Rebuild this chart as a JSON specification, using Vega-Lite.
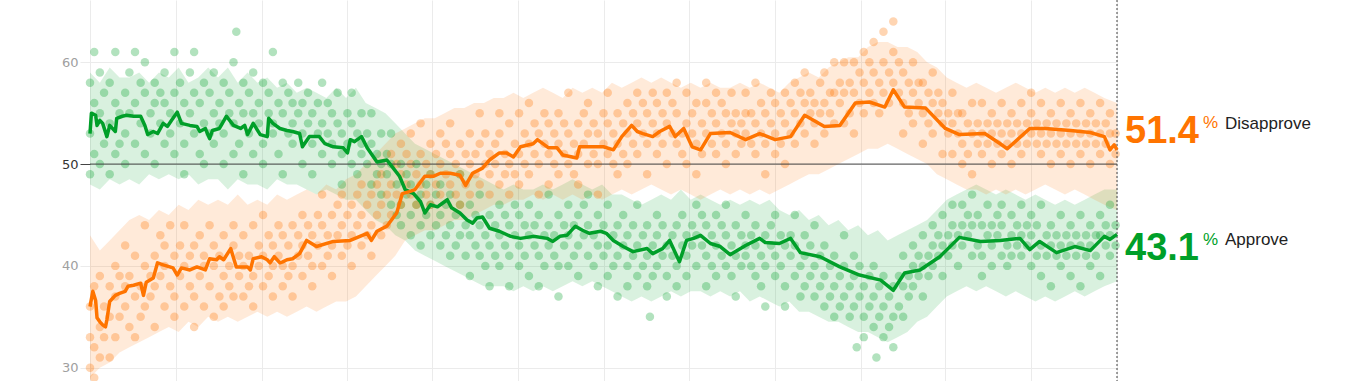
{
  "$schema": "https://vega.github.io/schema/vega-lite/v6.json",
  "autosize": "none",
  "padding": {"left": 90, "top": 0, "right": 235, "bottom": 0},
  "width": 1027,
  "height": 381,
  "config": {"view": {"stroke": null}, "background": "white"},
  "datasets": {
    "lines": [
      {"d":0,"s":"A","v":53.0},{"d":1,"s":"A","v":55.0},{"d":4,"s":"A","v":54.8},{"d":5,"s":"A","v":53.8},{"d":7,"s":"A","v":54.3},{"d":9,"s":"A","v":54.0},{"d":12,"s":"A","v":52.7},{"d":14,"s":"A","v":53.8},{"d":18,"s":"A","v":53.2},{"d":19,"s":"A","v":54.5},{"d":23,"s":"A","v":54.7},{"d":26,"s":"A","v":54.8},{"d":31,"s":"A","v":54.7},{"d":36,"s":"A","v":54.7},{"d":39,"s":"A","v":53.8},{"d":41,"s":"A","v":52.9},{"d":45,"s":"A","v":53.2},{"d":48,"s":"A","v":53.0},{"d":52,"s":"A","v":54.0},{"d":55,"s":"A","v":53.7},{"d":58,"s":"A","v":54.3},{"d":62,"s":"A","v":55.1},{"d":65,"s":"A","v":54.0},{"d":71,"s":"A","v":53.8},{"d":76,"s":"A","v":53.7},{"d":78,"s":"A","v":53.2},{"d":82,"s":"A","v":53.5},{"d":85,"s":"A","v":52.5},{"d":87,"s":"A","v":53.3},{"d":92,"s":"A","v":53.5},{"d":97,"s":"A","v":54.7},{"d":102,"s":"A","v":53.8},{"d":107,"s":"A","v":53.5},{"d":110,"s":"A","v":53.8},{"d":112,"s":"A","v":52.9},{"d":116,"s":"A","v":54.0},{"d":121,"s":"A","v":52.9},{"d":126,"s":"A","v":52.7},{"d":127,"s":"A","v":54.5},{"d":130,"s":"A","v":54.0},{"d":135,"s":"A","v":53.5},{"d":140,"s":"A","v":53.3},{"d":144,"s":"A","v":53.2},{"d":149,"s":"A","v":53.0},{"d":151,"s":"A","v":51.7},{"d":156,"s":"A","v":52.7},{"d":163,"s":"A","v":52.7},{"d":167,"s":"A","v":52.0},{"d":173,"s":"A","v":51.7},{"d":180,"s":"A","v":51.6},{"d":183,"s":"A","v":51.1},{"d":185,"s":"A","v":52.4},{"d":188,"s":"A","v":52.2},{"d":193,"s":"A","v":52.7},{"d":197,"s":"A","v":51.6},{"d":204,"s":"A","v":50.2},{"d":211,"s":"A","v":50.4},{"d":215,"s":"A","v":49.7},{"d":220,"s":"A","v":48.8},{"d":224,"s":"A","v":47.5},{"d":230,"s":"A","v":47.1},{"d":235,"s":"A","v":46.3},{"d":238,"s":"A","v":45.2},{"d":242,"s":"A","v":46.0},{"d":247,"s":"A","v":45.8},{"d":250,"s":"A","v":46.1},{"d":254,"s":"A","v":46.5},{"d":257,"s":"A","v":45.7},{"d":263,"s":"A","v":45.2},{"d":268,"s":"A","v":44.5},{"d":272,"s":"A","v":44.2},{"d":275,"s":"A","v":44.7},{"d":279,"s":"A","v":44.8},{"d":284,"s":"A","v":43.7},{"d":291,"s":"A","v":43.4},{"d":299,"s":"A","v":42.9},{"d":306,"s":"A","v":42.7},{"d":315,"s":"A","v":42.9},{"d":325,"s":"A","v":42.7},{"d":329,"s":"A","v":42.4},{"d":334,"s":"A","v":42.9},{"d":339,"s":"A","v":43.0},{"d":345,"s":"A","v":43.9},{"d":350,"s":"A","v":43.5},{"d":355,"s":"A","v":43.2},{"d":363,"s":"A","v":43.4},{"d":367,"s":"A","v":43.2},{"d":372,"s":"A","v":42.5},{"d":379,"s":"A","v":41.9},{"d":386,"s":"A","v":41.4},{"d":396,"s":"A","v":41.7},{"d":400,"s":"A","v":41.2},{"d":407,"s":"A","v":41.7},{"d":412,"s":"A","v":42.5},{"d":419,"s":"A","v":40.4},{"d":424,"s":"A","v":42.5},{"d":429,"s":"A","v":42.7},{"d":434,"s":"A","v":43.0},{"d":441,"s":"A","v":42.2},{"d":448,"s":"A","v":41.9},{"d":455,"s":"A","v":41.1},{"d":466,"s":"A","v":42.0},{"d":476,"s":"A","v":42.7},{"d":480,"s":"A","v":42.3},{"d":490,"s":"A","v":42.2},{"d":498,"s":"A","v":42.7},{"d":505,"s":"A","v":41.3},{"d":519,"s":"A","v":40.9},{"d":533,"s":"A","v":39.9},{"d":547,"s":"A","v":39.1},{"d":562,"s":"A","v":38.6},{"d":571,"s":"A","v":37.6},{"d":579,"s":"A","v":39.3},{"d":590,"s":"A","v":39.6},{"d":604,"s":"A","v":40.9},{"d":618,"s":"A","v":42.8},{"d":633,"s":"A","v":42.4},{"d":647,"s":"A","v":42.5},{"d":661,"s":"A","v":42.7},{"d":668,"s":"A","v":41.6},{"d":675,"s":"A","v":42.4},{"d":687,"s":"A","v":41.3},{"d":700,"s":"A","v":41.9},{"d":711,"s":"A","v":41.5},{"d":721,"s":"A","v":42.9},{"d":725,"s":"A","v":42.6},{"d":730,"s":"A","v":43.1},
      {"d":0,"s":"D","v":36.0},{"d":2,"s":"D","v":37.5},{"d":4,"s":"D","v":36.6},{"d":5,"s":"D","v":34.9},{"d":7,"s":"D","v":34.5},{"d":9,"s":"D","v":34.2},{"d":11,"s":"D","v":34.0},{"d":12,"s":"D","v":34.7},{"d":14,"s":"D","v":36.5},{"d":18,"s":"D","v":37.1},{"d":21,"s":"D","v":37.3},{"d":25,"s":"D","v":37.5},{"d":27,"s":"D","v":38.0},{"d":31,"s":"D","v":38.1},{"d":36,"s":"D","v":38.3},{"d":38,"s":"D","v":37.1},{"d":40,"s":"D","v":38.4},{"d":45,"s":"D","v":38.8},{"d":48,"s":"D","v":40.3},{"d":52,"s":"D","v":40.1},{"d":59,"s":"D","v":39.8},{"d":62,"s":"D","v":39.1},{"d":65,"s":"D","v":39.8},{"d":71,"s":"D","v":39.6},{"d":76,"s":"D","v":39.9},{"d":82,"s":"D","v":39.6},{"d":85,"s":"D","v":40.7},{"d":90,"s":"D","v":40.6},{"d":92,"s":"D","v":40.9},{"d":95,"s":"D","v":40.6},{"d":100,"s":"D","v":41.7},{"d":104,"s":"D","v":39.9},{"d":112,"s":"D","v":39.9},{"d":114,"s":"D","v":39.6},{"d":116,"s":"D","v":40.7},{"d":122,"s":"D","v":40.9},{"d":126,"s":"D","v":40.6},{"d":128,"s":"D","v":40.3},{"d":131,"s":"D","v":40.9},{"d":135,"s":"D","v":40.3},{"d":137,"s":"D","v":40.4},{"d":140,"s":"D","v":40.6},{"d":144,"s":"D","v":40.7},{"d":149,"s":"D","v":41.2},{"d":154,"s":"D","v":42.5},{"d":161,"s":"D","v":41.9},{"d":173,"s":"D","v":42.4},{"d":185,"s":"D","v":42.5},{"d":197,"s":"D","v":43.2},{"d":200,"s":"D","v":42.5},{"d":204,"s":"D","v":43.4},{"d":211,"s":"D","v":43.9},{"d":218,"s":"D","v":45.2},{"d":222,"s":"D","v":47.1},{"d":227,"s":"D","v":47.3},{"d":231,"s":"D","v":47.5},{"d":238,"s":"D","v":48.8},{"d":244,"s":"D","v":48.8},{"d":249,"s":"D","v":49.1},{"d":256,"s":"D","v":49.1},{"d":263,"s":"D","v":48.9},{"d":267,"s":"D","v":47.9},{"d":272,"s":"D","v":49.1},{"d":279,"s":"D","v":49.6},{"d":284,"s":"D","v":50.4},{"d":291,"s":"D","v":51.1},{"d":296,"s":"D","v":51.1},{"d":301,"s":"D","v":50.7},{"d":306,"s":"D","v":51.7},{"d":315,"s":"D","v":52.0},{"d":318,"s":"D","v":52.4},{"d":326,"s":"D","v":51.6},{"d":332,"s":"D","v":51.6},{"d":336,"s":"D","v":50.9},{"d":346,"s":"D","v":50.6},{"d":348,"s":"D","v":51.7},{"d":355,"s":"D","v":51.7},{"d":365,"s":"D","v":51.7},{"d":372,"s":"D","v":51.4},{"d":378,"s":"D","v":52.7},{"d":385,"s":"D","v":53.8},{"d":389,"s":"D","v":53.2},{"d":393,"s":"D","v":53.0},{"d":400,"s":"D","v":52.7},{"d":405,"s":"D","v":53.2},{"d":412,"s":"D","v":53.7},{"d":416,"s":"D","v":52.7},{"d":422,"s":"D","v":53.5},{"d":428,"s":"D","v":51.7},{"d":434,"s":"D","v":51.4},{"d":441,"s":"D","v":53.0},{"d":455,"s":"D","v":53.1},{"d":466,"s":"D","v":52.4},{"d":476,"s":"D","v":53.0},{"d":487,"s":"D","v":52.4},{"d":498,"s":"D","v":52.7},{"d":508,"s":"D","v":54.8},{"d":522,"s":"D","v":53.7},{"d":533,"s":"D","v":53.8},{"d":544,"s":"D","v":56.0},{"d":554,"s":"D","v":56.1},{"d":565,"s":"D","v":55.6},{"d":571,"s":"D","v":57.3},{"d":579,"s":"D","v":55.6},{"d":594,"s":"D","v":55.5},{"d":608,"s":"D","v":53.5},{"d":618,"s":"D","v":52.9},{"d":636,"s":"D","v":53.0},{"d":647,"s":"D","v":52.0},{"d":652,"s":"D","v":51.5},{"d":668,"s":"D","v":53.5},{"d":679,"s":"D","v":53.5},{"d":697,"s":"D","v":53.3},{"d":711,"s":"D","v":53.1},{"d":721,"s":"D","v":52.7},{"d":725,"s":"D","v":51.4},{"d":728,"s":"D","v":51.9},{"d":730,"s":"D","v":51.4}
    ],
    "bands": [
      {"d":0,"s":"A","lo":48.0,"hi":59.0},{"d":7,"s":"A","lo":47.5,"hi":58.0},{"d":14,"s":"A","lo":48.5,"hi":59.5},{"d":21,"s":"A","lo":48.0,"hi":58.5},{"d":28,"s":"A","lo":48.5,"hi":58.5},{"d":35,"s":"A","lo":48.0,"hi":59.0},{"d":42,"s":"A","lo":49.0,"hi":58.0},{"d":49,"s":"A","lo":48.5,"hi":59.0},{"d":56,"s":"A","lo":49.0,"hi":58.5},{"d":63,"s":"A","lo":48.5,"hi":59.5},{"d":70,"s":"A","lo":49.0,"hi":58.0},{"d":77,"s":"A","lo":48.0,"hi":58.5},{"d":84,"s":"A","lo":48.5,"hi":59.5},{"d":91,"s":"A","lo":48.5,"hi":58.5},{"d":98,"s":"A","lo":47.5,"hi":59.5},{"d":105,"s":"A","lo":48.5,"hi":58.0},{"d":112,"s":"A","lo":48.0,"hi":59.0},{"d":119,"s":"A","lo":48.0,"hi":58.0},{"d":126,"s":"A","lo":47.5,"hi":58.5},{"d":133,"s":"A","lo":48.5,"hi":57.5},{"d":140,"s":"A","lo":48.0,"hi":58.0},{"d":147,"s":"A","lo":48.0,"hi":57.0},{"d":154,"s":"A","lo":47.5,"hi":57.5},{"d":161,"s":"A","lo":47.0,"hi":57.0},{"d":168,"s":"A","lo":47.5,"hi":56.5},{"d":175,"s":"A","lo":47.0,"hi":57.5},{"d":182,"s":"A","lo":46.5,"hi":56.5},{"d":189,"s":"A","lo":46.5,"hi":57.5},{"d":196,"s":"A","lo":45.5,"hi":56.0},{"d":203,"s":"A","lo":44.5,"hi":55.5},{"d":210,"s":"A","lo":44.0,"hi":55.0},{"d":217,"s":"A","lo":43.0,"hi":54.0},{"d":224,"s":"A","lo":42.5,"hi":53.0},{"d":231,"s":"A","lo":41.5,"hi":52.0},{"d":238,"s":"A","lo":41.0,"hi":51.5},{"d":245,"s":"A","lo":40.5,"hi":51.0},{"d":252,"s":"A","lo":40.0,"hi":50.5},{"d":259,"s":"A","lo":39.5,"hi":50.0},{"d":266,"s":"A","lo":39.0,"hi":49.5},{"d":273,"s":"A","lo":38.5,"hi":49.0},{"d":280,"s":"A","lo":38.0,"hi":48.5},{"d":287,"s":"A","lo":38.0,"hi":48.0},{"d":294,"s":"A","lo":38.0,"hi":47.5},{"d":301,"s":"A","lo":37.5,"hi":48.0},{"d":308,"s":"A","lo":38.0,"hi":47.5},{"d":315,"s":"A","lo":37.5,"hi":47.5},{"d":322,"s":"A","lo":38.0,"hi":48.0},{"d":329,"s":"A","lo":37.5,"hi":47.5},{"d":336,"s":"A","lo":38.0,"hi":48.0},{"d":343,"s":"A","lo":38.5,"hi":48.5},{"d":350,"s":"A","lo":38.0,"hi":48.0},{"d":357,"s":"A","lo":38.5,"hi":47.5},{"d":364,"s":"A","lo":38.0,"hi":48.0},{"d":371,"s":"A","lo":37.5,"hi":47.0},{"d":378,"s":"A","lo":37.0,"hi":47.0},{"d":385,"s":"A","lo":36.5,"hi":46.5},{"d":392,"s":"A","lo":37.0,"hi":46.0},{"d":399,"s":"A","lo":36.5,"hi":46.5},{"d":406,"s":"A","lo":37.0,"hi":47.0},{"d":413,"s":"A","lo":37.5,"hi":46.5},{"d":420,"s":"A","lo":37.0,"hi":47.5},{"d":427,"s":"A","lo":37.5,"hi":46.5},{"d":434,"s":"A","lo":37.5,"hi":47.0},{"d":441,"s":"A","lo":37.0,"hi":46.5},{"d":448,"s":"A","lo":37.5,"hi":46.0},{"d":455,"s":"A","lo":37.0,"hi":46.5},{"d":462,"s":"A","lo":37.5,"hi":46.0},{"d":469,"s":"A","lo":36.5,"hi":46.5},{"d":476,"s":"A","lo":37.0,"hi":46.0},{"d":483,"s":"A","lo":36.5,"hi":46.5},{"d":490,"s":"A","lo":36.0,"hi":45.5},{"d":497,"s":"A","lo":36.5,"hi":45.0},{"d":504,"s":"A","lo":35.5,"hi":45.5},{"d":511,"s":"A","lo":35.5,"hi":44.5},{"d":518,"s":"A","lo":35.0,"hi":45.0},{"d":525,"s":"A","lo":34.5,"hi":44.0},{"d":532,"s":"A","lo":34.5,"hi":44.5},{"d":539,"s":"A","lo":34.0,"hi":43.5},{"d":546,"s":"A","lo":33.5,"hi":44.0},{"d":553,"s":"A","lo":33.5,"hi":43.0},{"d":560,"s":"A","lo":33.0,"hi":43.5},{"d":567,"s":"A","lo":32.5,"hi":42.5},{"d":574,"s":"A","lo":33.0,"hi":43.0},{"d":581,"s":"A","lo":33.5,"hi":43.5},{"d":588,"s":"A","lo":34.5,"hi":44.0},{"d":595,"s":"A","lo":35.0,"hi":44.5},{"d":602,"s":"A","lo":36.0,"hi":45.5},{"d":609,"s":"A","lo":37.0,"hi":46.5},{"d":616,"s":"A","lo":37.5,"hi":47.0},{"d":623,"s":"A","lo":38.0,"hi":47.5},{"d":630,"s":"A","lo":37.5,"hi":48.0},{"d":637,"s":"A","lo":38.0,"hi":47.5},{"d":644,"s":"A","lo":37.5,"hi":47.0},{"d":651,"s":"A","lo":37.0,"hi":47.5},{"d":658,"s":"A","lo":37.5,"hi":47.0},{"d":665,"s":"A","lo":37.0,"hi":46.5},{"d":672,"s":"A","lo":36.5,"hi":47.0},{"d":679,"s":"A","lo":37.0,"hi":46.5},{"d":686,"s":"A","lo":36.5,"hi":46.0},{"d":693,"s":"A","lo":37.0,"hi":46.5},{"d":700,"s":"A","lo":37.5,"hi":46.0},{"d":707,"s":"A","lo":37.0,"hi":46.5},{"d":714,"s":"A","lo":37.5,"hi":47.0},{"d":721,"s":"A","lo":38.0,"hi":47.5},{"d":730,"s":"A","lo":38.5,"hi":47.5},
      {"d":0,"s":"D","lo":29.0,"hi":43.0},{"d":7,"s":"D","lo":30.0,"hi":41.5},{"d":14,"s":"D","lo":30.5,"hi":42.5},{"d":21,"s":"D","lo":31.5,"hi":43.5},{"d":28,"s":"D","lo":32.0,"hi":44.5},{"d":35,"s":"D","lo":32.5,"hi":45.0},{"d":42,"s":"D","lo":33.0,"hi":44.5},{"d":49,"s":"D","lo":33.5,"hi":45.5},{"d":56,"s":"D","lo":34.0,"hi":45.0},{"d":63,"s":"D","lo":33.5,"hi":46.0},{"d":70,"s":"D","lo":34.5,"hi":45.5},{"d":77,"s":"D","lo":34.0,"hi":46.5},{"d":84,"s":"D","lo":35.0,"hi":46.0},{"d":91,"s":"D","lo":34.5,"hi":46.5},{"d":98,"s":"D","lo":35.0,"hi":46.0},{"d":105,"s":"D","lo":34.5,"hi":47.0},{"d":112,"s":"D","lo":35.0,"hi":46.0},{"d":119,"s":"D","lo":35.5,"hi":46.5},{"d":126,"s":"D","lo":35.0,"hi":46.0},{"d":133,"s":"D","lo":35.5,"hi":47.0},{"d":140,"s":"D","lo":35.0,"hi":46.5},{"d":147,"s":"D","lo":35.5,"hi":47.0},{"d":154,"s":"D","lo":36.0,"hi":47.5},{"d":161,"s":"D","lo":35.5,"hi":47.0},{"d":168,"s":"D","lo":36.0,"hi":48.0},{"d":175,"s":"D","lo":36.5,"hi":47.5},{"d":182,"s":"D","lo":36.5,"hi":48.5},{"d":189,"s":"D","lo":37.0,"hi":49.0},{"d":196,"s":"D","lo":38.0,"hi":50.0},{"d":203,"s":"D","lo":39.0,"hi":51.0},{"d":210,"s":"D","lo":40.0,"hi":52.0},{"d":217,"s":"D","lo":41.0,"hi":53.0},{"d":224,"s":"D","lo":42.5,"hi":53.5},{"d":231,"s":"D","lo":43.0,"hi":54.0},{"d":238,"s":"D","lo":43.5,"hi":54.5},{"d":245,"s":"D","lo":43.5,"hi":54.5},{"d":252,"s":"D","lo":44.0,"hi":55.0},{"d":259,"s":"D","lo":44.5,"hi":55.5},{"d":266,"s":"D","lo":44.5,"hi":55.5},{"d":273,"s":"D","lo":45.0,"hi":56.0},{"d":280,"s":"D","lo":45.5,"hi":56.0},{"d":287,"s":"D","lo":46.0,"hi":56.5},{"d":294,"s":"D","lo":46.0,"hi":56.5},{"d":301,"s":"D","lo":46.5,"hi":57.0},{"d":308,"s":"D","lo":46.5,"hi":56.5},{"d":315,"s":"D","lo":47.0,"hi":57.0},{"d":322,"s":"D","lo":46.5,"hi":57.5},{"d":329,"s":"D","lo":47.0,"hi":57.0},{"d":336,"s":"D","lo":46.5,"hi":56.5},{"d":343,"s":"D","lo":47.0,"hi":57.5},{"d":350,"s":"D","lo":46.5,"hi":57.0},{"d":357,"s":"D","lo":47.0,"hi":57.5},{"d":364,"s":"D","lo":46.5,"hi":57.0},{"d":371,"s":"D","lo":47.0,"hi":58.0},{"d":378,"s":"D","lo":47.5,"hi":57.5},{"d":385,"s":"D","lo":47.0,"hi":58.0},{"d":392,"s":"D","lo":47.5,"hi":58.5},{"d":399,"s":"D","lo":48.0,"hi":58.0},{"d":406,"s":"D","lo":47.5,"hi":58.5},{"d":413,"s":"D","lo":47.0,"hi":58.0},{"d":420,"s":"D","lo":47.5,"hi":57.5},{"d":427,"s":"D","lo":47.0,"hi":58.0},{"d":434,"s":"D","lo":46.5,"hi":57.5},{"d":441,"s":"D","lo":47.0,"hi":58.0},{"d":448,"s":"D","lo":47.5,"hi":57.5},{"d":455,"s":"D","lo":47.0,"hi":57.5},{"d":462,"s":"D","lo":47.5,"hi":58.0},{"d":469,"s":"D","lo":47.0,"hi":57.5},{"d":476,"s":"D","lo":47.5,"hi":58.0},{"d":483,"s":"D","lo":47.0,"hi":57.5},{"d":490,"s":"D","lo":47.5,"hi":57.0},{"d":497,"s":"D","lo":48.0,"hi":58.0},{"d":504,"s":"D","lo":48.5,"hi":58.5},{"d":511,"s":"D","lo":49.0,"hi":59.0},{"d":518,"s":"D","lo":49.0,"hi":58.5},{"d":525,"s":"D","lo":49.5,"hi":59.5},{"d":532,"s":"D","lo":50.0,"hi":60.0},{"d":539,"s":"D","lo":50.5,"hi":60.5},{"d":546,"s":"D","lo":51.0,"hi":60.5},{"d":553,"s":"D","lo":51.5,"hi":61.5},{"d":560,"s":"D","lo":51.5,"hi":62.0},{"d":567,"s":"D","lo":52.0,"hi":62.0},{"d":574,"s":"D","lo":51.5,"hi":61.5},{"d":581,"s":"D","lo":51.0,"hi":61.5},{"d":588,"s":"D","lo":50.5,"hi":61.0},{"d":595,"s":"D","lo":50.0,"hi":60.0},{"d":602,"s":"D","lo":49.0,"hi":59.5},{"d":609,"s":"D","lo":48.5,"hi":58.5},{"d":616,"s":"D","lo":48.0,"hi":58.0},{"d":623,"s":"D","lo":47.5,"hi":57.5},{"d":630,"s":"D","lo":47.5,"hi":58.0},{"d":637,"s":"D","lo":47.0,"hi":57.5},{"d":644,"s":"D","lo":47.5,"hi":57.0},{"d":651,"s":"D","lo":47.0,"hi":57.5},{"d":658,"s":"D","lo":47.5,"hi":58.0},{"d":665,"s":"D","lo":47.0,"hi":57.5},{"d":672,"s":"D","lo":47.5,"hi":57.0},{"d":679,"s":"D","lo":48.0,"hi":57.5},{"d":686,"s":"D","lo":47.5,"hi":57.0},{"d":693,"s":"D","lo":47.0,"hi":57.5},{"d":700,"s":"D","lo":47.5,"hi":57.0},{"d":707,"s":"D","lo":47.0,"hi":57.5},{"d":714,"s":"D","lo":46.5,"hi":57.0},{"d":721,"s":"D","lo":46.0,"hi":56.5},{"d":730,"s":"D","lo":45.5,"hi":56.0}
    ],
    "polls": [
      {"d":0,"s":"A","v":58},{"d":0,"s":"A","v":53},{"d":0,"s":"A","v":49},{"d":0,"s":"D","v":36},{"d":0,"s":"D","v":30},{"d":0,"s":"D","v":33},
      {"d":3,"s":"A","v":56},{"d":3,"s":"A","v":51},{"d":3,"s":"A","v":61},{"d":3,"s":"D","v":32},{"d":3,"s":"D","v":38},{"d":3,"s":"D","v":29},
      {"d":7,"s":"A","v":55},{"d":7,"s":"A","v":59},{"d":7,"s":"A","v":50},{"d":7,"s":"D","v":34},{"d":7,"s":"D","v":39},{"d":7,"s":"D","v":31},
      {"d":10,"s":"A","v":57},{"d":10,"s":"A","v":52},{"d":10,"s":"D","v":36},{"d":10,"s":"D","v":33},
      {"d":14,"s":"A","v":54},{"d":14,"s":"A","v":58},{"d":14,"s":"A","v":49},{"d":14,"s":"D","v":38},{"d":14,"s":"D","v":35},{"d":14,"s":"D","v":31},
      {"d":18,"s":"A","v":56},{"d":18,"s":"A","v":61},{"d":18,"s":"A","v":51},{"d":18,"s":"D","v":37},{"d":18,"s":"D","v":40},{"d":18,"s":"D","v":33},
      {"d":21,"s":"A","v":55},{"d":21,"s":"A","v":52},{"d":21,"s":"D","v":35},{"d":21,"s":"D","v":39},
      {"d":25,"s":"A","v":57},{"d":25,"s":"A","v":53},{"d":25,"s":"A","v":50},{"d":25,"s":"D","v":36},{"d":25,"s":"D","v":38},{"d":25,"s":"D","v":42},
      {"d":28,"s":"A","v":59},{"d":28,"s":"A","v":55},{"d":28,"s":"D","v":39},{"d":28,"s":"D","v":34},
      {"d":32,"s":"A","v":56},{"d":32,"s":"A","v":52},{"d":32,"s":"A","v":61},{"d":32,"s":"D","v":37},{"d":32,"s":"D","v":41},{"d":32,"s":"D","v":33},
      {"d":36,"s":"A","v":54},{"d":36,"s":"A","v":58},{"d":36,"s":"D","v":38},{"d":36,"s":"D","v":35},
      {"d":39,"s":"A","v":57},{"d":39,"s":"A","v":51},{"d":39,"s":"A","v":60},{"d":39,"s":"D","v":40},{"d":39,"s":"D","v":36},{"d":39,"s":"D","v":44},
      {"d":43,"s":"A","v":55},{"d":43,"s":"A","v":53},{"d":43,"s":"D","v":37},{"d":43,"s":"D","v":39},
      {"d":46,"s":"A","v":58},{"d":46,"s":"A","v":50},{"d":46,"s":"A","v":56},{"d":46,"s":"D","v":41},{"d":46,"s":"D","v":34},{"d":46,"s":"D","v":38},
      {"d":50,"s":"A","v":54},{"d":50,"s":"A","v":57},{"d":50,"s":"D","v":39},{"d":50,"s":"D","v":43},
      {"d":53,"s":"A","v":52},{"d":53,"s":"A","v":56},{"d":53,"s":"A","v":59},{"d":53,"s":"D","v":36},{"d":53,"s":"D","v":40},{"d":53,"s":"D","v":42},
      {"d":57,"s":"A","v":55},{"d":57,"s":"A","v":53},{"d":57,"s":"D","v":38},{"d":57,"s":"D","v":44},
      {"d":60,"s":"A","v":57},{"d":60,"s":"A","v":51},{"d":60,"s":"A","v":61},{"d":60,"s":"D","v":41},{"d":60,"s":"D","v":37},{"d":60,"s":"D","v":35},
      {"d":64,"s":"A","v":54},{"d":64,"s":"A","v":58},{"d":64,"s":"D","v":39},{"d":64,"s":"D","v":42},
      {"d":67,"s":"A","v":56},{"d":67,"s":"A","v":52},{"d":67,"s":"A","v":49},{"d":67,"s":"D","v":40},{"d":67,"s":"D","v":36},{"d":67,"s":"D","v":44},
      {"d":71,"s":"A","v":55},{"d":71,"s":"A","v":59},{"d":71,"s":"D","v":38},{"d":71,"s":"D","v":41},
      {"d":74,"s":"A","v":53},{"d":74,"s":"A","v":57},{"d":74,"s":"A","v":61},{"d":74,"s":"D","v":42},{"d":74,"s":"D","v":37},{"d":74,"s":"D","v":34},
      {"d":78,"s":"A","v":56},{"d":78,"s":"A","v":51},{"d":78,"s":"D","v":39},{"d":78,"s":"D","v":43},
      {"d":81,"s":"A","v":54},{"d":81,"s":"A","v":58},{"d":81,"s":"A","v":50},{"d":81,"s":"D","v":41},{"d":81,"s":"D","v":36},{"d":81,"s":"D","v":40},
      {"d":85,"s":"A","v":57},{"d":85,"s":"A","v":53},{"d":85,"s":"D","v":38},{"d":85,"s":"D","v":44},
      {"d":88,"s":"A","v":55},{"d":88,"s":"A","v":59},{"d":88,"s":"A","v":52},{"d":88,"s":"D","v":40},{"d":88,"s":"D","v":42},{"d":88,"s":"D","v":35},
      {"d":92,"s":"A","v":56},{"d":92,"s":"A","v":54},{"d":92,"s":"D","v":37},{"d":92,"s":"D","v":41},
      {"d":95,"s":"A","v":53},{"d":95,"s":"A","v":58},{"d":95,"s":"A","v":50},{"d":95,"s":"D","v":43},{"d":95,"s":"D","v":39},{"d":95,"s":"D","v":36},
      {"d":99,"s":"A","v":57},{"d":99,"s":"A","v":55},{"d":99,"s":"D","v":40},{"d":99,"s":"D","v":38},
      {"d":102,"s":"A","v":54},{"d":102,"s":"A","v":60},{"d":102,"s":"A","v":51},{"d":102,"s":"D","v":42},{"d":102,"s":"D","v":44},{"d":102,"s":"D","v":37},
      {"d":104,"s":"A","v":63},
      {"d":106,"s":"A","v":56},{"d":106,"s":"A","v":52},{"d":106,"s":"D","v":39},{"d":106,"s":"D","v":41},
      {"d":109,"s":"A","v":58},{"d":109,"s":"A","v":55},{"d":109,"s":"A","v":49},{"d":109,"s":"D","v":37},{"d":109,"s":"D","v":43},{"d":109,"s":"D","v":40},
      {"d":113,"s":"A","v":53},{"d":113,"s":"A","v":57},{"d":113,"s":"D","v":41},{"d":113,"s":"D","v":38},
      {"d":116,"s":"A","v":55},{"d":116,"s":"A","v":59},{"d":116,"s":"A","v":51},{"d":116,"s":"D","v":44},{"d":116,"s":"D","v":39},{"d":116,"s":"D","v":36},
      {"d":120,"s":"A","v":56},{"d":120,"s":"A","v":54},{"d":120,"s":"D","v":40},{"d":120,"s":"D","v":42},
      {"d":123,"s":"A","v":52},{"d":123,"s":"A","v":58},{"d":123,"s":"A","v":50},{"d":123,"s":"D","v":38},{"d":123,"s":"D","v":41},{"d":123,"s":"D","v":45},
      {"d":127,"s":"A","v":55},{"d":127,"s":"A","v":57},{"d":127,"s":"D","v":39},{"d":127,"s":"D","v":43},
      {"d":130,"s":"A","v":54},{"d":130,"s":"A","v":53},{"d":130,"s":"A","v":61},{"d":130,"s":"D","v":42},{"d":130,"s":"D","v":37},{"d":130,"s":"D","v":40},
      {"d":134,"s":"A","v":56},{"d":134,"s":"A","v":51},{"d":134,"s":"D","v":41},{"d":134,"s":"D","v":44},
      {"d":137,"s":"A","v":55},{"d":137,"s":"A","v":58},{"d":137,"s":"A","v":49},{"d":137,"s":"D","v":38},{"d":137,"s":"D","v":40},{"d":137,"s":"D","v":43},
      {"d":141,"s":"A","v":53},{"d":141,"s":"A","v":57},{"d":141,"s":"D","v":42},{"d":141,"s":"D","v":39},
      {"d":144,"s":"A","v":56},{"d":144,"s":"A","v":52},{"d":144,"s":"A","v":54},{"d":144,"s":"D","v":40},{"d":144,"s":"D","v":44},{"d":144,"s":"D","v":37},
      {"d":148,"s":"A","v":55},{"d":148,"s":"A","v":58},{"d":148,"s":"D","v":43},{"d":148,"s":"D","v":41},
      {"d":151,"s":"A","v":53},{"d":151,"s":"A","v":50},{"d":151,"s":"A","v":56},{"d":151,"s":"D","v":39},{"d":151,"s":"D","v":42},{"d":151,"s":"D","v":45},
      {"d":155,"s":"A","v":54},{"d":155,"s":"A","v":57},{"d":155,"s":"D","v":41},{"d":155,"s":"D","v":44},
      {"d":158,"s":"A","v":52},{"d":158,"s":"A","v":55},{"d":158,"s":"A","v":49},{"d":158,"s":"D","v":43},{"d":158,"s":"D","v":38},{"d":158,"s":"D","v":40},
      {"d":162,"s":"A","v":56},{"d":162,"s":"A","v":53},{"d":162,"s":"D","v":42},{"d":162,"s":"D","v":45},
      {"d":165,"s":"A","v":51},{"d":165,"s":"A","v":54},{"d":165,"s":"A","v":58},{"d":165,"s":"D","v":44},{"d":165,"s":"D","v":40},{"d":165,"s":"D","v":47},
      {"d":169,"s":"A","v":53},{"d":169,"s":"A","v":56},{"d":169,"s":"D","v":41},{"d":169,"s":"D","v":43},
      {"d":172,"s":"A","v":50},{"d":172,"s":"A","v":55},{"d":172,"s":"A","v":52},{"d":172,"s":"D","v":45},{"d":172,"s":"D","v":39},{"d":172,"s":"D","v":42},
      {"d":176,"s":"A","v":54},{"d":176,"s":"A","v":57},{"d":176,"s":"D","v":43},{"d":176,"s":"D","v":46},
      {"d":179,"s":"A","v":51},{"d":179,"s":"A","v":53},{"d":179,"s":"A","v":48},{"d":179,"s":"D","v":41},{"d":179,"s":"D","v":44},{"d":179,"s":"D","v":47},
      {"d":183,"s":"A","v":55},{"d":183,"s":"A","v":52},{"d":183,"s":"D","v":42},{"d":183,"s":"D","v":45},
      {"d":186,"s":"A","v":50},{"d":186,"s":"A","v":54},{"d":186,"s":"A","v":57},{"d":186,"s":"D","v":46},{"d":186,"s":"D","v":40},{"d":186,"s":"D","v":43},
      {"d":190,"s":"A","v":53},{"d":190,"s":"A","v":49},{"d":190,"s":"D","v":44},{"d":190,"s":"D","v":47},
      {"d":193,"s":"A","v":51},{"d":193,"s":"A","v":55},{"d":193,"s":"A","v":52},{"d":193,"s":"D","v":42},{"d":193,"s":"D","v":45},{"d":193,"s":"D","v":48},
      {"d":197,"s":"A","v":50},{"d":197,"s":"A","v":53},{"d":197,"s":"D","v":43},{"d":197,"s":"D","v":46},
      {"d":200,"s":"A","v":48},{"d":200,"s":"A","v":52},{"d":200,"s":"A","v":55},{"d":200,"s":"D","v":47},{"d":200,"s":"D","v":44},{"d":200,"s":"D","v":41},
      {"d":204,"s":"A","v":51},{"d":204,"s":"A","v":49},{"d":204,"s":"D","v":45},{"d":204,"s":"D","v":48},
      {"d":207,"s":"A","v":47},{"d":207,"s":"A","v":53},{"d":207,"s":"A","v":50},{"d":207,"s":"D","v":46},{"d":207,"s":"D","v":43},{"d":207,"s":"D","v":49},
      {"d":211,"s":"A","v":49},{"d":211,"s":"A","v":51},{"d":211,"s":"D","v":47},{"d":211,"s":"D","v":44},
      {"d":214,"s":"A","v":46},{"d":214,"s":"A","v":50},{"d":214,"s":"A","v":53},{"d":214,"s":"D","v":48},{"d":214,"s":"D","v":45},{"d":214,"s":"D","v":51},
      {"d":218,"s":"A","v":48},{"d":218,"s":"A","v":45},{"d":218,"s":"D","v":47},{"d":218,"s":"D","v":50},
      {"d":221,"s":"A","v":50},{"d":221,"s":"A","v":46},{"d":221,"s":"A","v":44},{"d":221,"s":"D","v":49},{"d":221,"s":"D","v":46},{"d":221,"s":"D","v":52},
      {"d":225,"s":"A","v":47},{"d":225,"s":"A","v":49},{"d":225,"s":"D","v":48},{"d":225,"s":"D","v":51},
      {"d":228,"s":"A","v":45},{"d":228,"s":"A","v":43},{"d":228,"s":"A","v":48},{"d":228,"s":"D","v":50},{"d":228,"s":"D","v":47},{"d":228,"s":"D","v":53},
      {"d":232,"s":"A","v":46},{"d":232,"s":"A","v":50},{"d":232,"s":"D","v":49},{"d":232,"s":"D","v":46},
      {"d":235,"s":"A","v":44},{"d":235,"s":"A","v":47},{"d":235,"s":"A","v":42},{"d":235,"s":"D","v":51},{"d":235,"s":"D","v":48},{"d":235,"s":"D","v":54},
      {"d":239,"s":"A","v":45},{"d":239,"s":"A","v":48},{"d":239,"s":"D","v":50},{"d":239,"s":"D","v":47},
      {"d":242,"s":"A","v":43},{"d":242,"s":"A","v":46},{"d":242,"s":"A","v":49},{"d":242,"s":"D","v":49},{"d":242,"s":"D","v":52},{"d":242,"s":"D","v":46},
      {"d":246,"s":"A","v":47},{"d":246,"s":"A","v":44},{"d":246,"s":"D","v":51},{"d":246,"s":"D","v":48},
      {"d":249,"s":"A","v":45},{"d":249,"s":"A","v":42},{"d":249,"s":"A","v":48},{"d":249,"s":"D","v":50},{"d":249,"s":"D","v":53},{"d":249,"s":"D","v":47},
      {"d":253,"s":"A","v":46},{"d":253,"s":"A","v":43},{"d":253,"s":"D","v":49},{"d":253,"s":"D","v":52},
      {"d":256,"s":"A","v":44},{"d":256,"s":"A","v":47},{"d":256,"s":"A","v":41},{"d":256,"s":"D","v":48},{"d":256,"s":"D","v":51},{"d":256,"s":"D","v":54},
      {"d":260,"s":"A","v":45},{"d":260,"s":"A","v":42},{"d":260,"s":"D","v":50},{"d":260,"s":"D","v":47},
      {"d":263,"s":"A","v":43},{"d":263,"s":"A","v":46},{"d":263,"s":"A","v":49},{"d":263,"s":"D","v":52},{"d":263,"s":"D","v":49},{"d":263,"s":"D","v":46},
      {"d":267,"s":"A","v":44},{"d":267,"s":"A","v":41},{"d":267,"s":"D","v":48},{"d":267,"s":"D","v":51},
      {"d":270,"s":"A","v":46},{"d":270,"s":"A","v":43},{"d":270,"s":"A","v":39},{"d":270,"s":"D","v":50},{"d":270,"s":"D","v":53},{"d":270,"s":"D","v":47},
      {"d":274,"s":"A","v":42},{"d":274,"s":"A","v":45},{"d":274,"s":"D","v":51},{"d":274,"s":"D","v":49},
      {"d":277,"s":"A","v":44},{"d":277,"s":"A","v":47},{"d":277,"s":"A","v":41},{"d":277,"s":"D","v":48},{"d":277,"s":"D","v":52},{"d":277,"s":"D","v":55},
      {"d":281,"s":"A","v":43},{"d":281,"s":"A","v":40},{"d":281,"s":"D","v":50},{"d":281,"s":"D","v":53},
      {"d":284,"s":"A","v":45},{"d":284,"s":"A","v":42},{"d":284,"s":"A","v":38},{"d":284,"s":"D","v":49},{"d":284,"s":"D","v":51},{"d":284,"s":"D","v":47},
      {"d":288,"s":"A","v":41},{"d":288,"s":"A","v":44},{"d":288,"s":"D","v":52},{"d":288,"s":"D","v":50},
      {"d":291,"s":"A","v":43},{"d":291,"s":"A","v":46},{"d":291,"s":"A","v":40},{"d":291,"s":"D","v":48},{"d":291,"s":"D","v":53},{"d":291,"s":"D","v":55},
      {"d":295,"s":"A","v":42},{"d":295,"s":"A","v":45},{"d":295,"s":"D","v":51},{"d":295,"s":"D","v":49},
      {"d":298,"s":"A","v":44},{"d":298,"s":"A","v":41},{"d":298,"s":"A","v":38},{"d":298,"s":"D","v":50},{"d":298,"s":"D","v":54},{"d":298,"s":"D","v":47},
      {"d":302,"s":"A","v":43},{"d":302,"s":"A","v":46},{"d":302,"s":"D","v":52},{"d":302,"s":"D","v":49},
      {"d":305,"s":"A","v":40},{"d":305,"s":"A","v":42},{"d":305,"s":"A","v":45},{"d":305,"s":"D","v":51},{"d":305,"s":"D","v":55},{"d":305,"s":"D","v":48},
      {"d":309,"s":"A","v":44},{"d":309,"s":"A","v":41},{"d":309,"s":"D","v":50},{"d":309,"s":"D","v":53},
      {"d":312,"s":"A","v":43},{"d":312,"s":"A","v":39},{"d":312,"s":"A","v":46},{"d":312,"s":"D","v":52},{"d":312,"s":"D","v":49},{"d":312,"s":"D","v":56},
      {"d":316,"s":"A","v":42},{"d":316,"s":"A","v":44},{"d":316,"s":"D","v":51},{"d":316,"s":"D","v":54},
      {"d":319,"s":"A","v":41},{"d":319,"s":"A","v":45},{"d":319,"s":"A","v":38},{"d":319,"s":"D","v":53},{"d":319,"s":"D","v":50},{"d":319,"s":"D","v":47},
      {"d":323,"s":"A","v":43},{"d":323,"s":"A","v":40},{"d":323,"s":"D","v":52},{"d":323,"s":"D","v":55},
      {"d":326,"s":"A","v":44},{"d":326,"s":"A","v":42},{"d":326,"s":"A","v":47},{"d":326,"s":"D","v":51},{"d":326,"s":"D","v":48},{"d":326,"s":"D","v":54},
      {"d":330,"s":"A","v":41},{"d":330,"s":"A","v":43},{"d":330,"s":"D","v":53},{"d":330,"s":"D","v":50},
      {"d":333,"s":"A","v":45},{"d":333,"s":"A","v":40},{"d":333,"s":"A","v":37},{"d":333,"s":"D","v":52},{"d":333,"s":"D","v":55},{"d":333,"s":"D","v":49},
      {"d":337,"s":"A","v":42},{"d":337,"s":"A","v":44},{"d":337,"s":"D","v":51},{"d":337,"s":"D","v":54},
      {"d":340,"s":"A","v":43},{"d":340,"s":"A","v":46},{"d":340,"s":"A","v":40},{"d":340,"s":"D","v":50},{"d":340,"s":"D","v":53},{"d":340,"s":"D","v":57},
      {"d":344,"s":"A","v":44},{"d":344,"s":"A","v":41},{"d":344,"s":"D","v":52},{"d":344,"s":"D","v":49},
      {"d":347,"s":"A","v":42},{"d":347,"s":"A","v":45},{"d":347,"s":"A","v":39},{"d":347,"s":"D","v":54},{"d":347,"s":"D","v":51},{"d":347,"s":"D","v":48},
      {"d":351,"s":"A","v":43},{"d":351,"s":"A","v":46},{"d":351,"s":"D","v":52},{"d":351,"s":"D","v":55},
      {"d":354,"s":"A","v":41},{"d":354,"s":"A","v":44},{"d":354,"s":"A","v":47},{"d":354,"s":"D","v":50},{"d":354,"s":"D","v":53},{"d":354,"s":"D","v":56},
      {"d":358,"s":"A","v":43},{"d":358,"s":"A","v":40},{"d":358,"s":"D","v":51},{"d":358,"s":"D","v":54},
      {"d":361,"s":"A","v":45},{"d":361,"s":"A","v":42},{"d":361,"s":"A","v":38},{"d":361,"s":"D","v":53},{"d":361,"s":"D","v":50},{"d":361,"s":"D","v":47},
      {"d":365,"s":"A","v":44},{"d":365,"s":"A","v":41},{"d":365,"s":"D","v":52},{"d":365,"s":"D","v":55},
      {"d":368,"s":"A","v":42},{"d":368,"s":"A","v":46},{"d":368,"s":"A","v":39},{"d":368,"s":"D","v":51},{"d":368,"s":"D","v":54},{"d":368,"s":"D","v":57},
      {"d":372,"s":"A","v":43},{"d":372,"s":"A","v":40},{"d":372,"s":"D","v":53},{"d":372,"s":"D","v":50},
      {"d":375,"s":"A","v":41},{"d":375,"s":"A","v":44},{"d":375,"s":"A","v":37},{"d":375,"s":"D","v":52},{"d":375,"s":"D","v":55},{"d":375,"s":"D","v":49},
      {"d":379,"s":"A","v":42},{"d":379,"s":"A","v":45},{"d":379,"s":"D","v":54},{"d":379,"s":"D","v":51},
      {"d":382,"s":"A","v":40},{"d":382,"s":"A","v":43},{"d":382,"s":"A","v":38},{"d":382,"s":"D","v":53},{"d":382,"s":"D","v":56},{"d":382,"s":"D","v":50},
      {"d":386,"s":"A","v":41},{"d":386,"s":"A","v":44},{"d":386,"s":"D","v":52},{"d":386,"s":"D","v":55},
      {"d":389,"s":"A","v":39},{"d":389,"s":"A","v":42},{"d":389,"s":"A","v":46},{"d":389,"s":"D","v":54},{"d":389,"s":"D","v":51},{"d":389,"s":"D","v":57},
      {"d":393,"s":"A","v":43},{"d":393,"s":"A","v":40},{"d":393,"s":"D","v":53},{"d":393,"s":"D","v":56},
      {"d":396,"s":"A","v":41},{"d":396,"s":"A","v":44},{"d":396,"s":"A","v":38},{"d":396,"s":"D","v":52},{"d":396,"s":"D","v":55},{"d":396,"s":"D","v":49},
      {"d":398,"s":"A","v":35},
      {"d":400,"s":"A","v":42},{"d":400,"s":"A","v":39},{"d":400,"s":"D","v":54},{"d":400,"s":"D","v":57},
      {"d":403,"s":"A","v":40},{"d":403,"s":"A","v":43},{"d":403,"s":"A","v":45},{"d":403,"s":"D","v":53},{"d":403,"s":"D","v":51},{"d":403,"s":"D","v":56},
      {"d":407,"s":"A","v":41},{"d":407,"s":"A","v":44},{"d":407,"s":"D","v":52},{"d":407,"s":"D","v":55},
      {"d":410,"s":"A","v":42},{"d":410,"s":"A","v":39},{"d":410,"s":"A","v":37},{"d":410,"s":"D","v":54},{"d":410,"s":"D","v":57},{"d":410,"s":"D","v":50},
      {"d":414,"s":"A","v":43},{"d":414,"s":"A","v":41},{"d":414,"s":"D","v":53},{"d":414,"s":"D","v":56},
      {"d":417,"s":"A","v":40},{"d":417,"s":"A","v":44},{"d":417,"s":"A","v":38},{"d":417,"s":"D","v":55},{"d":417,"s":"D","v":52},{"d":417,"s":"D","v":58},
      {"d":421,"s":"A","v":42},{"d":421,"s":"A","v":45},{"d":421,"s":"D","v":53},{"d":421,"s":"D","v":51},
      {"d":424,"s":"A","v":41},{"d":424,"s":"A","v":43},{"d":424,"s":"A","v":39},{"d":424,"s":"D","v":54},{"d":424,"s":"D","v":57},{"d":424,"s":"D","v":50},
      {"d":428,"s":"A","v":44},{"d":428,"s":"A","v":42},{"d":428,"s":"D","v":53},{"d":428,"s":"D","v":55},
      {"d":431,"s":"A","v":43},{"d":431,"s":"A","v":40},{"d":431,"s":"A","v":46},{"d":431,"s":"D","v":52},{"d":431,"s":"D","v":56},{"d":431,"s":"D","v":49},
      {"d":435,"s":"A","v":42},{"d":435,"s":"A","v":45},{"d":435,"s":"D","v":54},{"d":435,"s":"D","v":51},
      {"d":438,"s":"A","v":41},{"d":438,"s":"A","v":44},{"d":438,"s":"A","v":38},{"d":438,"s":"D","v":53},{"d":438,"s":"D","v":56},{"d":438,"s":"D","v":58},
      {"d":442,"s":"A","v":43},{"d":442,"s":"A","v":40},{"d":442,"s":"D","v":55},{"d":442,"s":"D","v":52},
      {"d":445,"s":"A","v":42},{"d":445,"s":"A","v":45},{"d":445,"s":"A","v":39},{"d":445,"s":"D","v":54},{"d":445,"s":"D","v":51},{"d":445,"s":"D","v":57},
      {"d":449,"s":"A","v":44},{"d":449,"s":"A","v":41},{"d":449,"s":"D","v":53},{"d":449,"s":"D","v":56},
      {"d":452,"s":"A","v":40},{"d":452,"s":"A","v":43},{"d":452,"s":"A","v":46},{"d":452,"s":"D","v":52},{"d":452,"s":"D","v":55},{"d":452,"s":"D","v":50},
      {"d":456,"s":"A","v":42},{"d":456,"s":"A","v":39},{"d":456,"s":"D","v":54},{"d":456,"s":"D","v":57},
      {"d":459,"s":"A","v":41},{"d":459,"s":"A","v":44},{"d":459,"s":"A","v":37},{"d":459,"s":"D","v":53},{"d":459,"s":"D","v":55},{"d":459,"s":"D","v":51},
      {"d":463,"s":"A","v":43},{"d":463,"s":"A","v":40},{"d":463,"s":"D","v":52},{"d":463,"s":"D","v":54},
      {"d":466,"s":"A","v":41},{"d":466,"s":"A","v":42},{"d":466,"s":"A","v":45},{"d":466,"s":"D","v":55},{"d":466,"s":"D","v":53},{"d":466,"s":"D","v":57},
      {"d":470,"s":"A","v":40},{"d":470,"s":"A","v":43},{"d":470,"s":"D","v":52},{"d":470,"s":"D","v":55},
      {"d":473,"s":"A","v":42},{"d":473,"s":"A","v":39},{"d":473,"s":"A","v":44},{"d":473,"s":"D","v":54},{"d":473,"s":"D","v":51},{"d":473,"s":"D","v":58},
      {"d":477,"s":"A","v":41},{"d":477,"s":"A","v":38},{"d":477,"s":"D","v":53},{"d":477,"s":"D","v":56},
      {"d":480,"s":"A","v":43},{"d":480,"s":"A","v":40},{"d":480,"s":"A","v":36},{"d":480,"s":"D","v":52},{"d":480,"s":"D","v":55},{"d":480,"s":"D","v":49},
      {"d":484,"s":"A","v":42},{"d":484,"s":"A","v":44},{"d":484,"s":"D","v":54},{"d":484,"s":"D","v":57},
      {"d":487,"s":"A","v":39},{"d":487,"s":"A","v":41},{"d":487,"s":"A","v":45},{"d":487,"s":"D","v":53},{"d":487,"s":"D","v":51},{"d":487,"s":"D","v":56},
      {"d":491,"s":"A","v":40},{"d":491,"s":"A","v":43},{"d":491,"s":"D","v":52},{"d":491,"s":"D","v":55},
      {"d":494,"s":"A","v":42},{"d":494,"s":"A","v":38},{"d":494,"s":"A","v":36},{"d":494,"s":"D","v":54},{"d":494,"s":"D","v":57},{"d":494,"s":"D","v":50},
      {"d":498,"s":"A","v":41},{"d":498,"s":"A","v":43},{"d":498,"s":"D","v":53},{"d":498,"s":"D","v":56},
      {"d":501,"s":"A","v":39},{"d":501,"s":"A","v":42},{"d":501,"s":"A","v":45},{"d":501,"s":"D","v":55},{"d":501,"s":"D","v":52},{"d":501,"s":"D","v":58},
      {"d":505,"s":"A","v":40},{"d":505,"s":"A","v":37},{"d":505,"s":"D","v":54},{"d":505,"s":"D","v":57},
      {"d":508,"s":"A","v":41},{"d":508,"s":"A","v":43},{"d":508,"s":"A","v":38},{"d":508,"s":"D","v":56},{"d":508,"s":"D","v":53},{"d":508,"s":"D","v":59},
      {"d":512,"s":"A","v":39},{"d":512,"s":"A","v":42},{"d":512,"s":"D","v":55},{"d":512,"s":"D","v":57},
      {"d":515,"s":"A","v":40},{"d":515,"s":"A","v":37},{"d":515,"s":"A","v":44},{"d":515,"s":"D","v":54},{"d":515,"s":"D","v":56},{"d":515,"s":"D","v":52},
      {"d":519,"s":"A","v":41},{"d":519,"s":"A","v":38},{"d":519,"s":"D","v":55},{"d":519,"s":"D","v":58},
      {"d":522,"s":"A","v":39},{"d":522,"s":"A","v":42},{"d":522,"s":"A","v":36},{"d":522,"s":"D","v":56},{"d":522,"s":"D","v":53},{"d":522,"s":"D","v":59},
      {"d":526,"s":"A","v":40},{"d":526,"s":"A","v":37},{"d":526,"s":"D","v":55},{"d":526,"s":"D","v":57},
      {"d":529,"s":"A","v":38},{"d":529,"s":"A","v":41},{"d":529,"s":"A","v":35},{"d":529,"s":"D","v":54},{"d":529,"s":"D","v":57},{"d":529,"s":"D","v":60},
      {"d":533,"s":"A","v":39},{"d":533,"s":"A","v":36},{"d":533,"s":"D","v":56},{"d":533,"s":"D","v":58},
      {"d":536,"s":"A","v":37},{"d":536,"s":"A","v":40},{"d":536,"s":"A","v":43},{"d":536,"s":"D","v":57},{"d":536,"s":"D","v":54},{"d":536,"s":"D","v":60},
      {"d":540,"s":"A","v":38},{"d":540,"s":"A","v":35},{"d":540,"s":"D","v":55},{"d":540,"s":"D","v":58},
      {"d":543,"s":"A","v":39},{"d":543,"s":"A","v":36},{"d":543,"s":"A","v":41},{"d":543,"s":"D","v":57},{"d":543,"s":"D","v":60},{"d":543,"s":"D","v":53},
      {"d":545,"s":"A","v":32},
      {"d":547,"s":"A","v":37},{"d":547,"s":"A","v":40},{"d":547,"s":"D","v":56},{"d":547,"s":"D","v":59},
      {"d":550,"s":"A","v":38},{"d":550,"s":"A","v":35},{"d":550,"s":"A","v":33},{"d":550,"s":"D","v":58},{"d":550,"s":"D","v":55},{"d":550,"s":"D","v":61},
      {"d":554,"s":"A","v":36},{"d":554,"s":"A","v":39},{"d":554,"s":"D","v":57},{"d":554,"s":"D","v":60},
      {"d":557,"s":"A","v":37},{"d":557,"s":"A","v":34},{"d":557,"s":"A","v":40},{"d":557,"s":"D","v":56},{"d":557,"s":"D","v":59},{"d":557,"s":"D","v":62},
      {"d":559,"s":"A","v":31},
      {"d":561,"s":"A","v":38},{"d":561,"s":"A","v":35},{"d":561,"s":"D","v":58},{"d":561,"s":"D","v":55},
      {"d":564,"s":"A","v":36},{"d":564,"s":"A","v":39},{"d":564,"s":"A","v":33},{"d":564,"s":"D","v":57},{"d":564,"s":"D","v":60},{"d":564,"s":"D","v":63},
      {"d":568,"s":"A","v":37},{"d":568,"s":"A","v":34},{"d":568,"s":"D","v":59},{"d":568,"s":"D","v":56},
      {"d":571,"s":"A","v":38},{"d":571,"s":"A","v":35},{"d":571,"s":"A","v":32},{"d":571,"s":"D","v":58},{"d":571,"s":"D","v":61},{"d":571,"s":"D","v":64},
      {"d":575,"s":"A","v":36},{"d":575,"s":"A","v":39},{"d":575,"s":"D","v":57},{"d":575,"s":"D","v":60},
      {"d":578,"s":"A","v":38},{"d":578,"s":"A","v":41},{"d":578,"s":"A","v":35},{"d":578,"s":"D","v":56},{"d":578,"s":"D","v":59},{"d":578,"s":"D","v":53},
      {"d":582,"s":"A","v":39},{"d":582,"s":"A","v":37},{"d":582,"s":"D","v":58},{"d":582,"s":"D","v":55},
      {"d":585,"s":"A","v":40},{"d":585,"s":"A","v":38},{"d":585,"s":"A","v":42},{"d":585,"s":"D","v":57},{"d":585,"s":"D","v":54},{"d":585,"s":"D","v":60},
      {"d":589,"s":"A","v":39},{"d":589,"s":"A","v":41},{"d":589,"s":"D","v":56},{"d":589,"s":"D","v":58},
      {"d":592,"s":"A","v":40},{"d":592,"s":"A","v":43},{"d":592,"s":"A","v":37},{"d":592,"s":"D","v":55},{"d":592,"s":"D","v":58},{"d":592,"s":"D","v":52},
      {"d":596,"s":"A","v":41},{"d":596,"s":"A","v":39},{"d":596,"s":"D","v":57},{"d":596,"s":"D","v":54},
      {"d":599,"s":"A","v":42},{"d":599,"s":"A","v":40},{"d":599,"s":"A","v":44},{"d":599,"s":"D","v":56},{"d":599,"s":"D","v":53},{"d":599,"s":"D","v":59},
      {"d":603,"s":"A","v":41},{"d":603,"s":"A","v":43},{"d":603,"s":"D","v":55},{"d":603,"s":"D","v":57},
      {"d":606,"s":"A","v":42},{"d":606,"s":"A","v":45},{"d":606,"s":"A","v":39},{"d":606,"s":"D","v":54},{"d":606,"s":"D","v":56},{"d":606,"s":"D","v":51},
      {"d":610,"s":"A","v":43},{"d":610,"s":"A","v":41},{"d":610,"s":"D","v":55},{"d":610,"s":"D","v":53},
      {"d":613,"s":"A","v":42},{"d":613,"s":"A","v":44},{"d":613,"s":"A","v":46},{"d":613,"s":"D","v":54},{"d":613,"s":"D","v":51},{"d":613,"s":"D","v":57},
      {"d":617,"s":"A","v":43},{"d":617,"s":"A","v":40},{"d":617,"s":"D","v":53},{"d":617,"s":"D","v":55},
      {"d":620,"s":"A","v":44},{"d":620,"s":"A","v":42},{"d":620,"s":"A","v":46},{"d":620,"s":"D","v":52},{"d":620,"s":"D","v":55},{"d":620,"s":"D","v":50},
      {"d":624,"s":"A","v":43},{"d":624,"s":"A","v":45},{"d":624,"s":"D","v":54},{"d":624,"s":"D","v":51},
      {"d":627,"s":"A","v":41},{"d":627,"s":"A","v":44},{"d":627,"s":"A","v":47},{"d":627,"s":"D","v":53},{"d":627,"s":"D","v":56},{"d":627,"s":"D","v":49},
      {"d":631,"s":"A","v":42},{"d":631,"s":"A","v":45},{"d":631,"s":"D","v":52},{"d":631,"s":"D","v":54},
      {"d":634,"s":"A","v":44},{"d":634,"s":"A","v":41},{"d":634,"s":"A","v":39},{"d":634,"s":"D","v":53},{"d":634,"s":"D","v":51},{"d":634,"s":"D","v":56},
      {"d":638,"s":"A","v":43},{"d":638,"s":"A","v":46},{"d":638,"s":"D","v":54},{"d":638,"s":"D","v":52},
      {"d":641,"s":"A","v":42},{"d":641,"s":"A","v":44},{"d":641,"s":"A","v":40},{"d":641,"s":"D","v":53},{"d":641,"s":"D","v":55},{"d":641,"s":"D","v":50},
      {"d":645,"s":"A","v":43},{"d":645,"s":"A","v":45},{"d":645,"s":"D","v":52},{"d":645,"s":"D","v":54},
      {"d":648,"s":"A","v":41},{"d":648,"s":"A","v":44},{"d":648,"s":"A","v":46},{"d":648,"s":"D","v":51},{"d":648,"s":"D","v":53},{"d":648,"s":"D","v":56},
      {"d":652,"s":"A","v":42},{"d":652,"s":"A","v":40},{"d":652,"s":"D","v":54},{"d":652,"s":"D","v":52},
      {"d":655,"s":"A","v":43},{"d":655,"s":"A","v":45},{"d":655,"s":"A","v":41},{"d":655,"s":"D","v":53},{"d":655,"s":"D","v":55},{"d":655,"s":"D","v":50},
      {"d":659,"s":"A","v":44},{"d":659,"s":"A","v":42},{"d":659,"s":"D","v":52},{"d":659,"s":"D","v":54},
      {"d":662,"s":"A","v":43},{"d":662,"s":"A","v":41},{"d":662,"s":"A","v":46},{"d":662,"s":"D","v":53},{"d":662,"s":"D","v":56},{"d":662,"s":"D","v":51},
      {"d":666,"s":"A","v":42},{"d":666,"s":"A","v":44},{"d":666,"s":"D","v":54},{"d":666,"s":"D","v":52},
      {"d":669,"s":"A","v":43},{"d":669,"s":"A","v":45},{"d":669,"s":"A","v":40},{"d":669,"s":"D","v":53},{"d":669,"s":"D","v":55},{"d":669,"s":"D","v":57},
      {"d":673,"s":"A","v":41},{"d":673,"s":"A","v":44},{"d":673,"s":"D","v":52},{"d":673,"s":"D","v":54},
      {"d":676,"s":"A","v":42},{"d":676,"s":"A","v":46},{"d":676,"s":"A","v":39},{"d":676,"s":"D","v":53},{"d":676,"s":"D","v":51},{"d":676,"s":"D","v":56},
      {"d":680,"s":"A","v":43},{"d":680,"s":"A","v":41},{"d":680,"s":"D","v":54},{"d":680,"s":"D","v":52},
      {"d":683,"s":"A","v":42},{"d":683,"s":"A","v":44},{"d":683,"s":"A","v":38},{"d":683,"s":"D","v":53},{"d":683,"s":"D","v":55},{"d":683,"s":"D","v":50},
      {"d":687,"s":"A","v":41},{"d":687,"s":"A","v":43},{"d":687,"s":"D","v":52},{"d":687,"s":"D","v":54},
      {"d":690,"s":"A","v":42},{"d":690,"s":"A","v":45},{"d":690,"s":"A","v":40},{"d":690,"s":"D","v":53},{"d":690,"s":"D","v":56},{"d":690,"s":"D","v":51},
      {"d":694,"s":"A","v":43},{"d":694,"s":"A","v":41},{"d":694,"s":"D","v":54},{"d":694,"s":"D","v":52},
      {"d":697,"s":"A","v":42},{"d":697,"s":"A","v":44},{"d":697,"s":"A","v":39},{"d":697,"s":"D","v":53},{"d":697,"s":"D","v":55},{"d":697,"s":"D","v":50},
      {"d":701,"s":"A","v":41},{"d":701,"s":"A","v":43},{"d":701,"s":"D","v":52},{"d":701,"s":"D","v":54},
      {"d":704,"s":"A","v":42},{"d":704,"s":"A","v":45},{"d":704,"s":"A","v":38},{"d":704,"s":"D","v":53},{"d":704,"s":"D","v":51},{"d":704,"s":"D","v":56},
      {"d":708,"s":"A","v":43},{"d":708,"s":"A","v":41},{"d":708,"s":"D","v":54},{"d":708,"s":"D","v":52},
      {"d":711,"s":"A","v":42},{"d":711,"s":"A","v":44},{"d":711,"s":"A","v":40},{"d":711,"s":"D","v":53},{"d":711,"s":"D","v":55},{"d":711,"s":"D","v":50},
      {"d":715,"s":"A","v":41},{"d":715,"s":"A","v":43},{"d":715,"s":"D","v":52},{"d":715,"s":"D","v":54},
      {"d":718,"s":"A","v":43},{"d":718,"s":"A","v":45},{"d":718,"s":"A","v":39},{"d":718,"s":"D","v":53},{"d":718,"s":"D","v":51},{"d":718,"s":"D","v":56},
      {"d":722,"s":"A","v":42},{"d":722,"s":"A","v":44},{"d":722,"s":"D","v":52},{"d":722,"s":"D","v":54},
      {"d":725,"s":"A","v":43},{"d":725,"s":"A","v":41},{"d":725,"s":"A","v":46},{"d":725,"s":"D","v":53},{"d":725,"s":"D","v":50},{"d":725,"s":"D","v":55},
      {"d":729,"s":"A","v":44},{"d":729,"s":"A","v":42},{"d":729,"s":"D","v":51},{"d":729,"s":"D","v":53}
    ],
    "labels": [
      {"d":730,"s":"D","v":51.4,"t":"Disapprove"},
      {"d":730,"s":"A","v":43.1,"t":"Approve"}
    ]
  },
  "encoding": {
    "x": {"field": "d", "type": "quantitative",
      "scale": {"domain": [0, 730], "nice": false, "zero": false},
      "axis": {"values": [0,61,122,183,243,304,365,426,487,548,608,669,730], "grid": true, "gridColor": "#ebebeb", "labels": false, "ticks": false, "domain": false, "title": null}},
    "y": {"type": "quantitative",
      "scale": {"domain": [28.69, 66.12], "nice": false, "zero": false},
      "axis": {"values": [30,40,50,60], "grid": true, "gridColor": "#ebebeb", "domain": false, "tickSize": 10,
        "tickColor": {"condition": {"test": "datum.value == 50", "value": "#444444"}, "value": "#ebebeb"},
        "labelPadding": 2, "labelFont": "DejaVu Sans", "labelFontSize": 13,
        "labelColor": {"condition": {"test": "datum.value == 50", "value": "#333333"}, "value": "#a0a0a0"}, "title": null}},
    "color": {"field": "s", "type": "nominal", "scale": {"domain": ["A","D"], "range": ["#009f29","#ff7400"]}, "legend": null}
  },
  "layer": [
    {"data": {"name": "bands"}, "mark": {"type": "area", "opacity": 0.15, "interpolate": "linear"},
      "encoding": {"y": {"field": "lo"}, "y2": {"field": "hi"}}},
    {"data": {"name": "polls"}, "mark": {"type": "circle", "size": 72, "opacity": 0.3},
      "encoding": {"y": {"field": "v"}}},
    {"data": {"values": [{"v": 50}]}, "mark": {"type": "rule", "color": "#444444", "strokeWidth": 1},
      "encoding": {"x": null, "color": null, "y": {"field": "v"}}},
    {"data": {"values": [{"d": 730}]}, "mark": {"type": "rule", "color": "#444444", "strokeWidth": 1, "strokeDash": [2, 2]},
      "encoding": {"color": null, "y": null}},
    {"data": {"name": "lines"}, "mark": {"type": "line", "strokeWidth": 3.5, "strokeJoin": "round"},
      "encoding": {"y": {"field": "v"}}},
    {"data": {"name": "labels"}, "transform": [{"filter": "datum.s == 'D'"}],
      "mark": {"type": "text", "align": "left", "baseline": "alphabetic", "dx": 8, "dy": -7, "fontSize": 38, "fontWeight": "bold", "font": "Liberation Sans"},
      "encoding": {"y": {"field": "v"}, "text": {"field": "v", "type": "quantitative", "format": ".1f"}}},
    {"data": {"name": "labels"}, "transform": [{"filter": "datum.s == 'D'"}],
      "mark": {"type": "text", "align": "left", "baseline": "alphabetic", "dx": 86, "dy": -22, "fontSize": 17, "font": "Liberation Sans", "text": "%"},
      "encoding": {"y": {"field": "v"}}},
    {"data": {"name": "labels"}, "transform": [{"filter": "datum.s == 'D'"}],
      "mark": {"type": "text", "align": "left", "baseline": "alphabetic", "dx": 108, "dy": -21, "fontSize": 17, "font": "Liberation Sans", "color": "#222222"},
      "encoding": {"y": {"field": "v"}, "color": null, "text": {"field": "t"}}},
    {"data": {"name": "labels"}, "transform": [{"filter": "datum.s == 'A'"}],
      "mark": {"type": "text", "align": "left", "baseline": "alphabetic", "dx": 8, "dy": 26, "fontSize": 38, "fontWeight": "bold", "font": "Liberation Sans"},
      "encoding": {"y": {"field": "v"}, "text": {"field": "v", "type": "quantitative", "format": ".1f"}}},
    {"data": {"name": "labels"}, "transform": [{"filter": "datum.s == 'A'"}],
      "mark": {"type": "text", "align": "left", "baseline": "alphabetic", "dx": 86, "dy": 11, "fontSize": 17, "font": "Liberation Sans", "text": "%"},
      "encoding": {"y": {"field": "v"}}},
    {"data": {"name": "labels"}, "transform": [{"filter": "datum.s == 'A'"}],
      "mark": {"type": "text", "align": "left", "baseline": "alphabetic", "dx": 108, "dy": 11, "fontSize": 17, "font": "Liberation Sans", "color": "#222222"},
      "encoding": {"y": {"field": "v"}, "color": null, "text": {"field": "t"}}}
  ]
}
